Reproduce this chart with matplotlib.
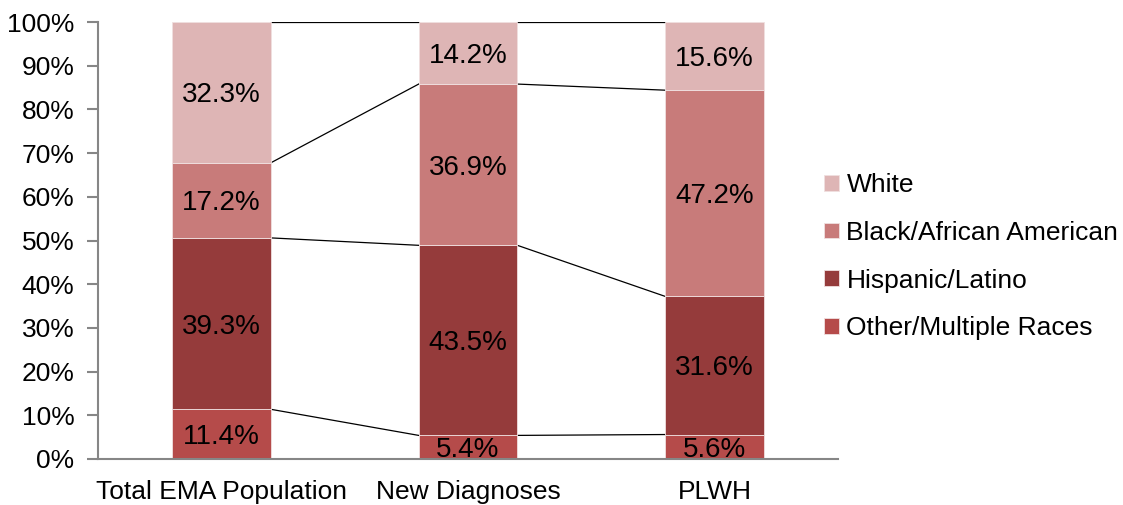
import matplotlib.pyplot as plt
import numpy as np

plt.rcParams['font.family'] = ['Liberation Sans', 'DejaVu Sans']

categories = ['Total EMA Population', 'New Diagnoses', 'PLWH']
series = ['Other/Multiple Races', 'Hispanic/Latino', 'Black/African American', 'White']
other = [11.4, 5.4, 5.6]
hispanic = [39.3, 43.5, 31.6]
black = [17.2, 36.9, 47.2]
white = [32.3, 14.2, 15.6]
colors = ['#B54B4A', '#953B3B', '#C87B7A', '#DEB5B5']

def main():
	data = np.array([other, hispanic, black, white])
	share = data / data.sum(axis=0) * 100
	fig = plt.figure(figsize=(11.23, 5.05), dpi=100)
	ax = fig.add_axes([0.0873, 0.0911, 0.6589, 0.8653])
	x = np.arange(len(categories))
	w = 0.4
	fs = 19
	bottom = np.zeros(len(categories))
	handles = []
	for i, name in enumerate(series):
		b = ax.bar(x, share[i], w, bottom=bottom, color=colors[i],
			edgecolor='#f0e0e0', linewidth=0.6, label=name, zorder=2)
		handles.append(b)
		for j in range(len(categories)):
			ax.text(x[j], bottom[j] + share[i][j] / 2, '%.1f%%' % data[i][j],
				ha='center', va='center_baseline', fontsize=20, color='black', zorder=3)
		bottom = bottom + share[i]
		# series lines between bars
		for j in range(len(categories) - 1):
			ax.plot([x[j] + w / 2, x[j + 1] - w / 2], [bottom[j], bottom[j + 1]],
				color='black', linewidth=0.9, zorder=1)

	ax.set_xlim(-0.5, 2.5)
	ax.set_ylim(0, 100)
	ax.set_yticks(np.arange(0, 101, 10))
	ax.set_yticklabels(['%d%%' % v for v in range(0, 101, 10)], fontsize=fs)
	ax.set_xticks(x)
	ax.set_xticklabels(categories, fontsize=fs)
	ax.tick_params(axis='x', length=0, pad=15)
	ax.tick_params(axis='y', length=8, width=1.5, color='#868686', pad=9)
	for s in ['top', 'right']:
		ax.spines[s].set_visible(False)
	for s in ['left', 'bottom']:
		ax.spines[s].set_color('#868686')
		ax.spines[s].set_linewidth(1.5)

	leg = ax.legend(handles[::-1], series[::-1], loc='center left',
		bbox_to_anchor=(0.949, 0.463), frameon=False, fontsize=fs,
		handlelength=0.55, handleheight=0.55, handletextpad=0.3, labelspacing=0.9)
	fig.savefig('out.png', dpi=100)

main()
